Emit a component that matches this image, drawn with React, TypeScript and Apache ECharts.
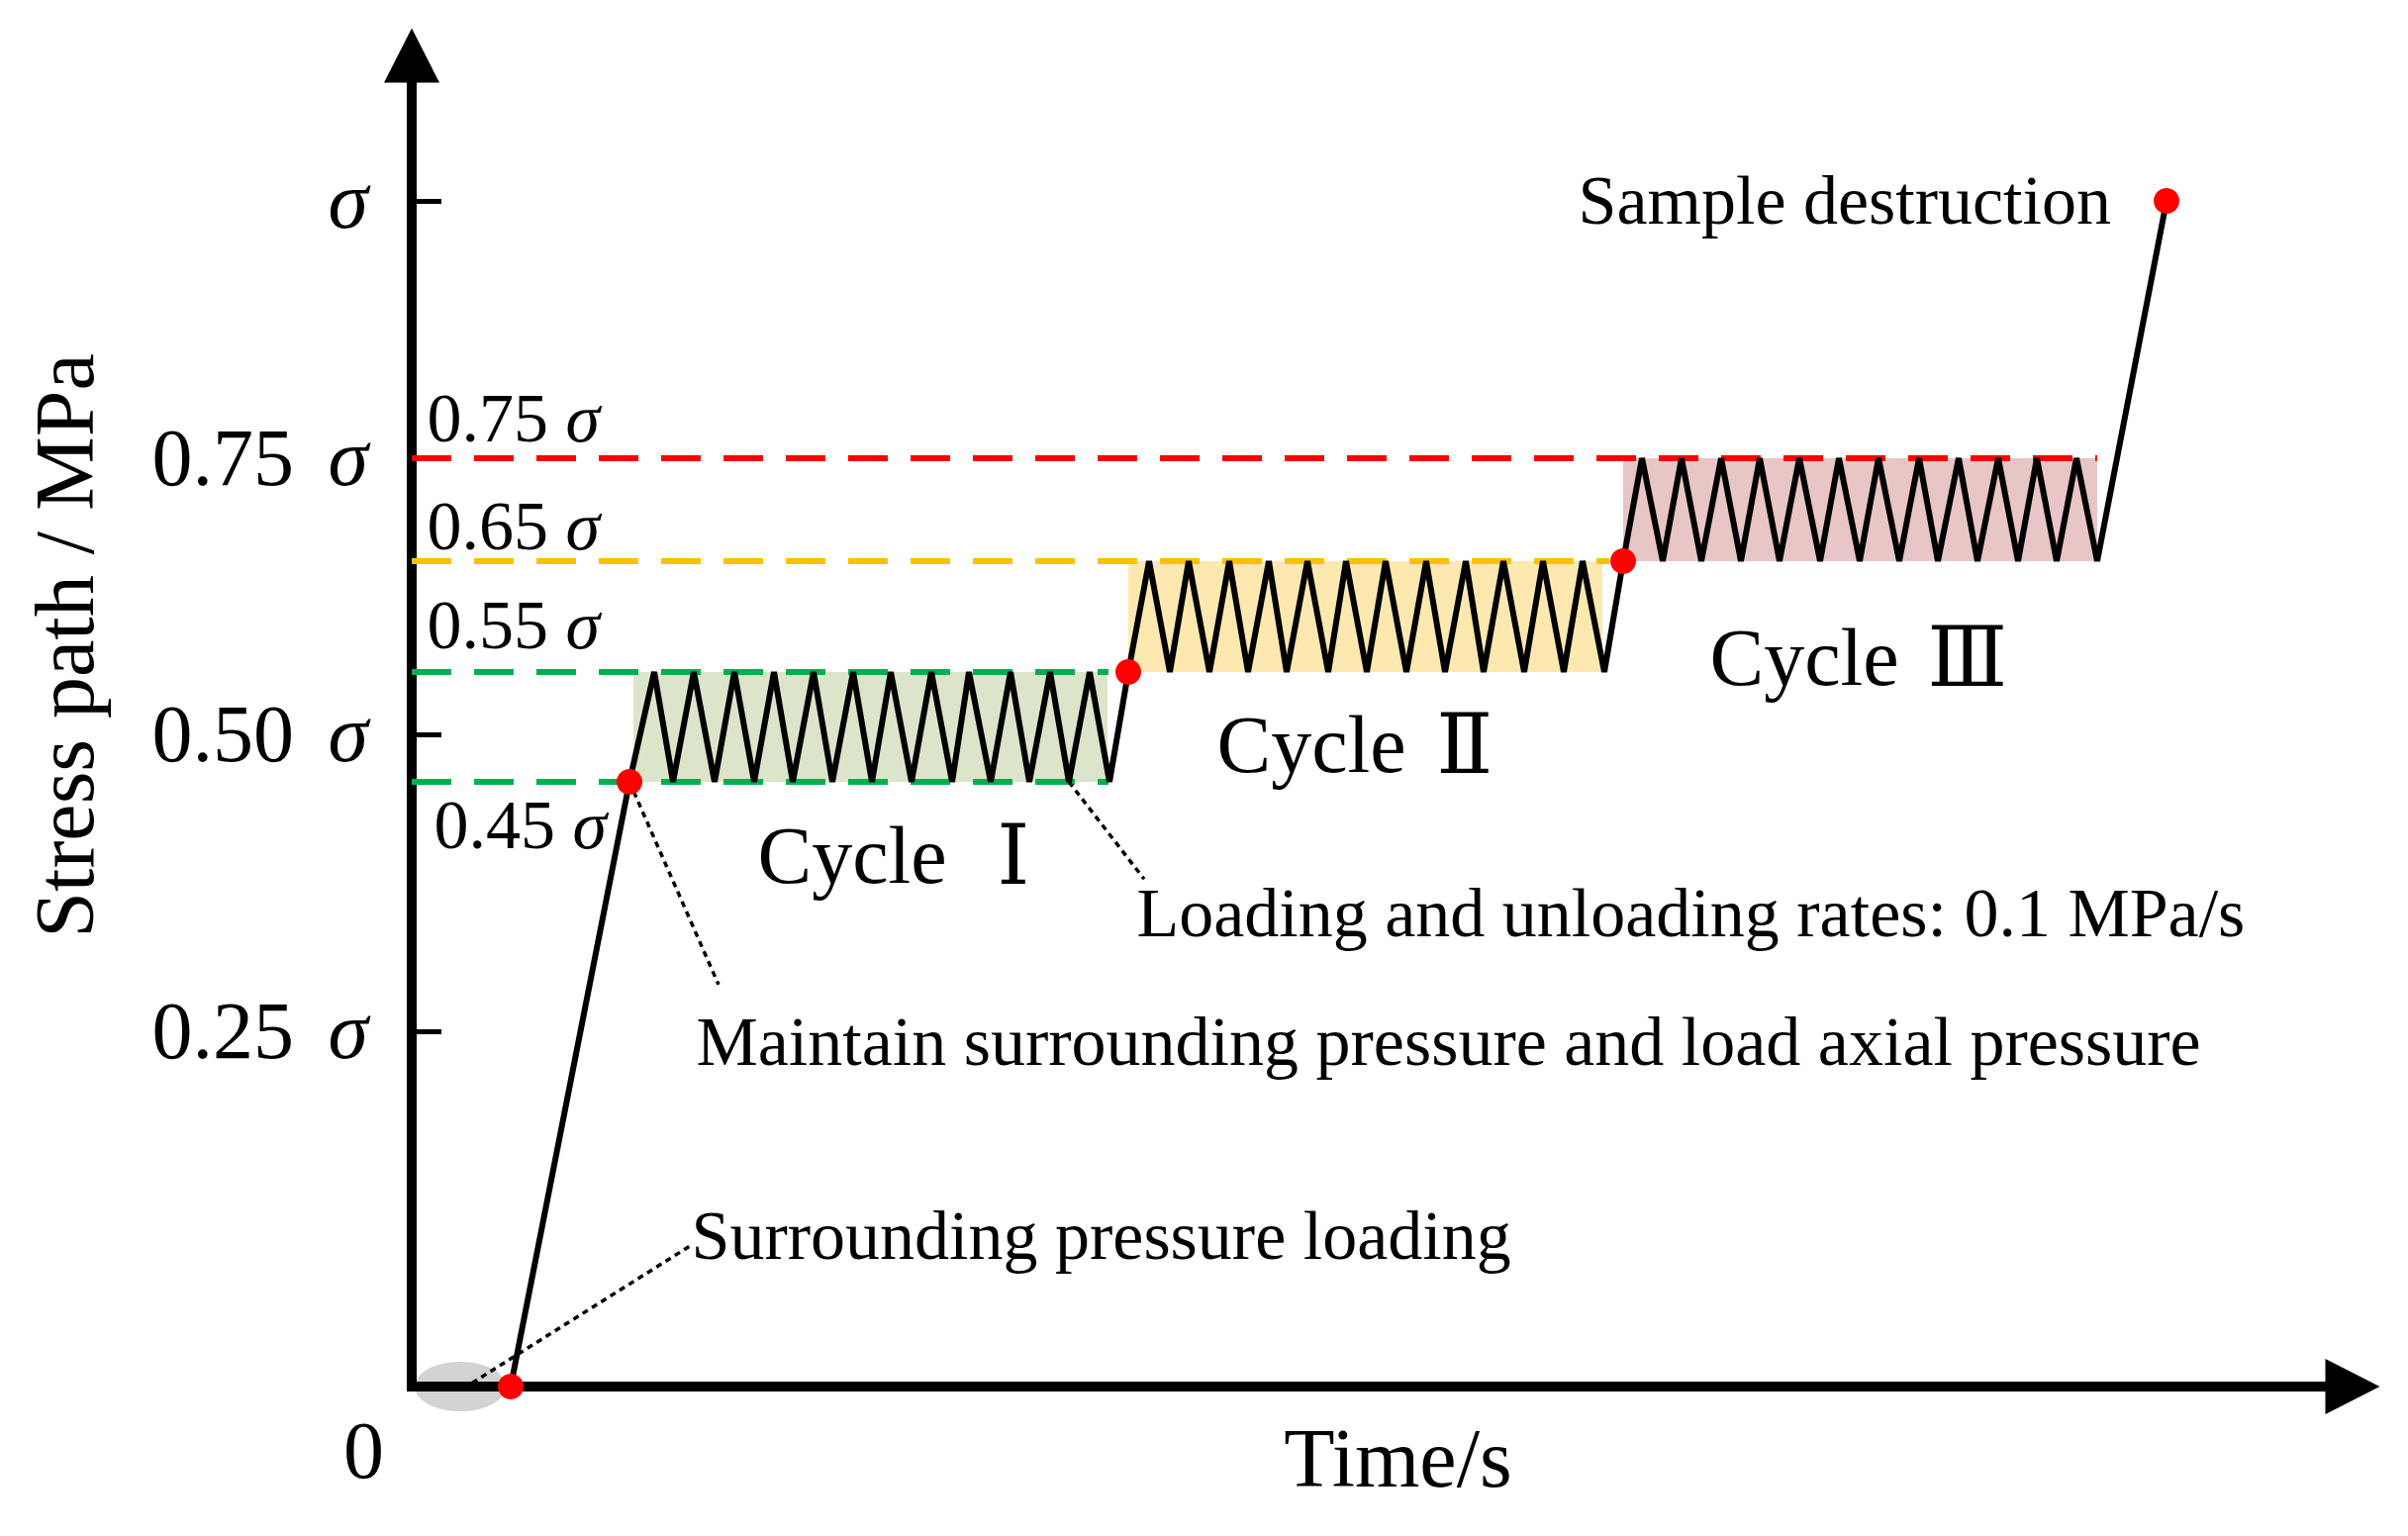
import React, { useEffect, useRef } from 'react';
import * as echarts from 'echarts';

// ---- Schematic stress levels (fractions of peak strength σ) and the relative height
// ---- at which the figure draws each of them (the σ tick = 1.0; the drawing is not linear)
const sigmaLevels = [0, 0.25, 0.45, 0.5, 0.55, 0.65, 0.75, 1];
const sigmaHeights = [0, 0.2997, 0.51, 0.5501, 0.6027, 0.6962, 0.783, 1];

// ---- Y-axis ticks
const yTickLevels = [0.25, 0.5, 0.75, 1];
const yTickNumbers = ['0.25', '0.50', '0.75', ''];
const originLabel = '0';

// ---- Stress path (time in schematic seconds, stress as σ level)
const loadingTimes = [10.0, 22.0];
const loadingLevels = [0, 0.45];

const cycle1Peaks = [24.5, 28.5, 32.6, 36.6, 40.6, 44.6, 48.4, 52.5, 56.3, 60.5, 64.5, 68.5];
const cycle1Troughs = [26.4, 30.6, 34.6, 38.5, 42.5, 46.5, 50.5, 54.6, 58.5, 62.4, 66.4, 70.5];
const cycle1Range = [0.45, 0.55];

const cycle2Start = [72.4, 0.55];
const cycle2Peaks = [74.5, 78.5, 82.6, 86.6, 90.5, 94.4, 98.4, 102.5, 106.5, 110.3, 114.3, 118.3];
const cycle2Troughs = [76.6, 80.6, 84.5, 88.4, 92.6, 96.5, 100.5, 104.4, 108.3, 112.4, 116.4, 120.5];
const cycle2Range = [0.55, 0.65];

const cycle3Start = [122.4, 0.65];
const cycle3Peaks = [124.3, 128.3, 132.3, 136.2, 140.2, 144.2, 148.2, 152.3, 156.3, 160.3, 164.2, 168.2];
const cycle3Troughs = [126.4, 130.3, 134.3, 138.2, 142.3, 146.3, 150.3, 154.2, 158.2, 162.3, 166.2, 170.3];
const cycle3Range = [0.65, 0.75];

const failurePoint = [177.3, 1.0];

// ---- Key points (red dots)
const keyTimes = [10.0, 22.0, 72.4, 122.4, 177.3];
const keyLevels = [0, 0.45, 0.55, 0.65, 1.0];

// ---- Shaded cycle bands
const bandStarts = [22.4, 72.4, 122.4];
const bandEnds = [70.3, 120.3, 170.3];
const bandLow = [0.45, 0.55, 0.65];
const bandHigh = [0.55, 0.65, 0.75];

// ---- Dashed reference levels
const dashLevels = [0.75, 0.65, 0.55, 0.45];
const dashEnds = [170.3, 121.0, 70.4, 70.4];
const dashNumbers = ['0.75', '0.65', '0.55', '0.45'];

// ---- Texts
const cycleWord = 'Cycle';
const cycleNumerals = ['Ⅰ', 'Ⅱ', 'Ⅲ'];
const noteTexts = [
  'Surrounding pressure loading',
  'Maintain surrounding pressure and load axial pressure',
  'Loading and unloading rates: 0.1 MPa/s',
  'Sample destruction',
];
const yName = 'Stress path / MPa';
const xName = 'Time/s';

// ---- styles
const FONT = "'Liberation Serif', 'Times New Roman', 'DejaVu Serif', serif";
const dashColors = ['#FF0000', '#FFC000', '#00B050', '#00B050'];
const bandColors = ['#DCE5CA', '#FDE9B0', '#E8C6C6'];
const numeralGaps = [30, 10, 8];

const H = (level: number) => sigmaHeights[sigmaLevels.indexOf(level)];

function buildPath() {
  const pts: number[][] = [];
  loadingTimes.forEach((t, i) => pts.push([t, H(loadingLevels[i])]));
  const addCycle = (peaks: number[], troughs: number[], range: number[]) => {
    peaks.forEach((p, i) => {
      pts.push([p, H(range[1])]);
      pts.push([troughs[i], H(range[0])]);
    });
  };
  addCycle(cycle1Peaks, cycle1Troughs, cycle1Range);
  pts.push([cycle2Start[0], H(cycle2Start[1])]);
  addCycle(cycle2Peaks, cycle2Troughs, cycle2Range);
  pts.push([cycle3Start[0], H(cycle3Start[1])]);
  addCycle(cycle3Peaks, cycle3Troughs, cycle3Range);
  pts.push([failurePoint[0], H(failurePoint[1])]);
  return pts;
}

export default function App() {
  const ref = useRef<HTMLDivElement>(null);

  useEffect(() => {
    if (!ref.current) return;
    const chart = echarts.init(ref.current, null, { renderer: 'svg' });

    const yTickHeights = yTickLevels.map(H);
    const richSigma = {
      n: { fontSize: 82, fontFamily: FONT, color: '#000' },
      s: { fontSize: 82, fontFamily: FONT, fontStyle: 'italic', color: '#000', padding: [0, 0, 0, 14] },
    };
    const richSmall = {
      n: { fontSize: 70, fontFamily: FONT, color: '#000' },
      s: { fontSize: 70, fontFamily: FONT, fontStyle: 'italic', color: '#000' },
    };

    const dashSeries = dashLevels.map((lv, i) => ({
      type: 'line',
      z: 3,
      silent: true,
      symbol: 'none',
      data: [[0, H(lv)], [dashEnds[i], H(lv)]],
      lineStyle: { color: dashColors[i], width: 6, type: [40, 23] },
    }));

    const leaderLines = [
      [[6.1, 0.003], [28.2, 0.119]],
      [[loadingTimes[1], H(0.45)], [31.0, 0.339]],
      [[cycle1Troughs[10], H(0.45)], [74.0, 0.428]],
    ];
    const leaderSeries = leaderLines.map((d) => ({
      type: 'line',
      z: 5,
      silent: true,
      symbol: 'none',
      data: d,
      lineStyle: { color: '#000', width: 3.5, type: [6, 5] },
    }));

    const baseLabel = {
      show: true,
      position: 'right',
      distance: 0,
      fontFamily: FONT,
      color: '#000',
      opacity: 1,
      align: 'left',
      verticalAlign: 'middle',
    };
    const noteLabel = (t: number, h: number, text: string, size: number) => ({
      value: [t, h],
      label: { ...baseLabel, formatter: text, fontSize: size },
    });
    const cycleLabel = (t: number, h: number, i: number) => ({
      value: [t, h],
      label: {
        ...baseLabel,
        fontSize: 82,
        formatter: `{c|${cycleWord}} {r|${cycleNumerals[i]}}`,
        rich: {
          c: { fontSize: 82, fontFamily: FONT, color: '#000' },
          r: { fontSize: 84, fontFamily: FONT, color: '#000', padding: [0, 0, 0, numeralGaps[i]] },
        },
      },
    });
    const levelLabel = (t: number, h: number, num: string) => ({
      value: [t, h],
      label: { ...baseLabel, formatter: `{n|${num}} {s|σ}`, fontSize: 70, rich: richSmall },
    });

    const notes = [
      noteLabel(28.2, 0.127, noteTexts[0], 70),
      noteLabel(28.7, 0.291, noteTexts[1], 70),
      noteLabel(73.2, 0.399, noteTexts[2], 70),
      noteLabel(117.8, 1.0, noteTexts[3], 70),
      cycleLabel(34.9, 0.448, 0),
      cycleLabel(81.3, 0.541, 1),
      cycleLabel(131.1, 0.615, 2),
      levelLabel(1.5, 0.817, dashNumbers[0]),
      levelLabel(1.5, 0.726, dashNumbers[1]),
      levelLabel(1.5, 0.642, dashNumbers[2]),
      levelLabel(2.2, 0.474, dashNumbers[3]),
      {
        value: [0, 0],
        label: {
          ...baseLabel,
          formatter: originLabel,
          fontSize: 82,
          position: [-48, 65],
          align: 'center',
        },
      },
    ];

    const option: any = {
      animation: false,
      backgroundColor: '#ffffff',
      textStyle: { fontFamily: FONT },
      grid: { left: 416, right: 56, top: 56, bottom: 151, containLabel: false },
      xAxis: {
        type: 'value',
        min: 0,
        max: 196.1,
        axisLine: {
          show: true,
          lineStyle: { color: '#000', width: 10, cap: 'square' },
          symbol: ['none', 'triangle'],
          symbolSize: [56, 55],
        },
        axisTick: { show: false },
        axisLabel: { show: false },
        splitLine: { show: false },
        name: xName,
        nameLocation: 'middle',
        nameGap: 30,
        nameTextStyle: { fontSize: 84, fontFamily: FONT, color: '#000', padding: [0, 0, 0, 32] },
      },
      yAxis: {
        type: 'value',
        min: 0,
        max: 1.1227,
        axisLine: {
          show: true,
          lineStyle: { color: '#000', width: 10, cap: 'square' },
          symbol: ['none', 'triangle'],
          symbolSize: [56, 55],
        },
        axisTick: {
          show: true,
          inside: true,
          length: 30,
          lineStyle: { color: '#000', width: 5 },
          customValues: yTickHeights,
        },
        axisLabel: {
          show: true,
          customValues: yTickHeights,
          margin: 44,
          fontSize: 82,
          fontFamily: FONT,
          color: '#000',
          formatter: (v: number) => {
            let best = 0;
            yTickHeights.forEach((h, i) => {
              if (Math.abs(h - v) < Math.abs(yTickHeights[best] - v)) best = i;
            });
            const num = yTickNumbers[best];
            return num ? `{n|${num}} {s|σ}` : '{s|σ}';
          },
          rich: richSigma,
        },
        splitLine: { show: false },
        name: yName,
        nameLocation: 'middle',
        nameGap: 309,
        nameTextStyle: { fontSize: 84, fontFamily: FONT, color: '#000', padding: [0, 0, 0, 152] },
      },
      series: [
        {
          type: 'scatter',
          z: -1,
          silent: true,
          symbol: 'circle',
          symbolSize: [92, 50],
          itemStyle: { color: '#D3D3D3', opacity: 1 },
          data: [[4.9, 0]],
          clip: false,
        },
        {
          type: 'custom',
          z: 1,
          silent: true,
          encode: { x: [0, 1], y: [2, 3] },
          data: bandStarts.map((s, i) => [s, bandEnds[i], H(bandLow[i]), H(bandHigh[i])]),
          renderItem: (params: any, api: any) => {
            const p0 = api.coord([api.value(0), api.value(3)]);
            const p1 = api.coord([api.value(1), api.value(2)]);
            return {
              type: 'rect',
              shape: { x: p0[0], y: p0[1], width: p1[0] - p0[0], height: p1[1] - p0[1] },
              style: { fill: bandColors[params.dataIndex] },
            };
          },
        },
        ...dashSeries,
        {
          type: 'line',
          z: 4,
          silent: true,
          symbol: 'none',
          data: buildPath(),
          lineStyle: { color: '#000', width: 6, join: 'miter' },
        },
        ...leaderSeries,
        {
          type: 'scatter',
          z: 6,
          silent: true,
          symbol: 'circle',
          symbolSize: 26,
          itemStyle: { color: '#FF0000', opacity: 1 },
          clip: false,
          data: keyTimes.map((t, i) => [t, H(keyLevels[i])]),
        },
        {
          type: 'scatter',
          z: 7,
          silent: true,
          symbol: 'circle',
          symbolSize: 1,
          itemStyle: { color: 'rgba(0,0,0,0)', opacity: 1 },
          clip: false,
          data: notes,
        },
      ],
    };

    chart.setOption(option);
    return () => chart.dispose();
  }, []);

  return (
    <div
      ref={ref}
      style={{ position: 'fixed', left: 0, top: 0, width: 2433, height: 1552, background: '#fff' }}
    />
  );
}
